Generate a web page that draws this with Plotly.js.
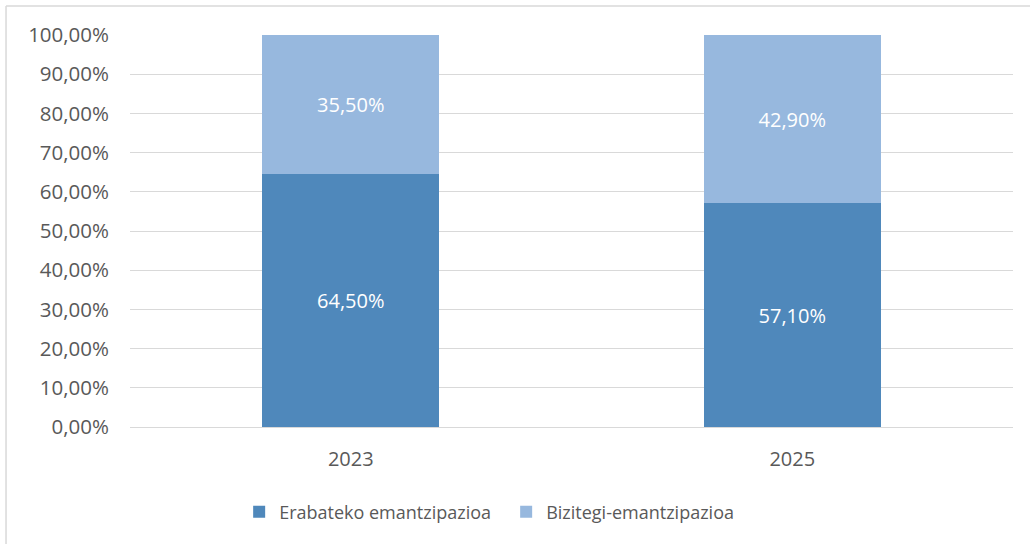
<!DOCTYPE html>
<html>
<head>
<meta charset="utf-8">
<script src="https://cdn.plot.ly/plotly-3.0.1.min.js"></script>
<style>html,body{margin:0;padding:0;background:#fff;}#chart{width:1030px;height:544px;}</style>
</head>
<body>
<div id="chart"></div>
<script>
const categories = ['2023', '2025'];
const seriesNames = ['Erabateko emantzipazioa', 'Bizitegi-emantzipazioa'];
const erabateko = [0.645, 0.571];
const bizitegi = [0.355, 0.429];
const yTicks = [0, 0.1, 0.2, 0.3, 0.4, 0.5, 0.6, 0.7, 0.8, 0.9, 1.0];

const font = "Open Sans, Noto Sans, sans-serif";
const traces = [
  {type:'bar', name:seriesNames[0], x:categories, y:erabateko,
   marker:{color:'#4F88BB'}, texttemplate:'%{y:.2%}', textposition:'inside',
   insidetextanchor:'middle', textfont:{color:'#FFFFFF', size:20, family:font}, hoverinfo:'none'},
  {type:'bar', name:seriesNames[1], x:categories, y:bizitegi,
   marker:{color:'#97B8DE'}, texttemplate:'%{y:.2%}', textposition:'inside',
   insidetextanchor:'middle', textfont:{color:'#FFFFFF', size:20, family:font}, hoverinfo:'none'}
];
const layout = {
  width:1030, height:544, barmode:'stack', bargap:0.6, separators:',.',
  margin:{l:130, r:17, t:35, b:117},
  paper_bgcolor:'#FFFFFF', plot_bgcolor:'#FFFFFF',
  font:{family:font, color:'#595959', size:20},
  xaxis:{type:'category', showgrid:false, showline:false, ticks:'', ticklabelstandoff:18,
         tickfont:{size:20, color:'#595959'}},
  yaxis:{range:[0,1], tickvals:yTicks, tickformat:'.2%', showgrid:true, gridcolor:'#D9D9D9',
         gridwidth:1, zeroline:true, zerolinecolor:'#D9D9D9', zerolinewidth:1,
         showline:false, ticks:'', ticklabelstandoff:20, tickfont:{size:20.5, color:'#595959'}},
  legend:{orientation:'h', x:0.426, xanchor:'center', y:-0.217, yanchor:'middle',
          font:{size:18, color:'#595959'}, traceorder:'normal', itemwidth:30,
          entrywidth:222, entrywidthmode:'pixels'},
  showlegend:true,
  shapes:[
    {type:'line', xref:'paper', yref:'paper', x0:-0.1404, x1:1.1, y0:1.074, y1:1.074, line:{color:'#D9D9D9', width:1.5}},
    {type:'line', xref:'paper', yref:'paper', x0:-0.1404, x1:-0.1404, y0:1.074, y1:-0.4, line:{color:'#D9D9D9', width:1.5}}
  ]
};
Plotly.newPlot('chart', traces, layout, {displayModeBar:false, staticPlot:true});
</script>
</body>
</html>
